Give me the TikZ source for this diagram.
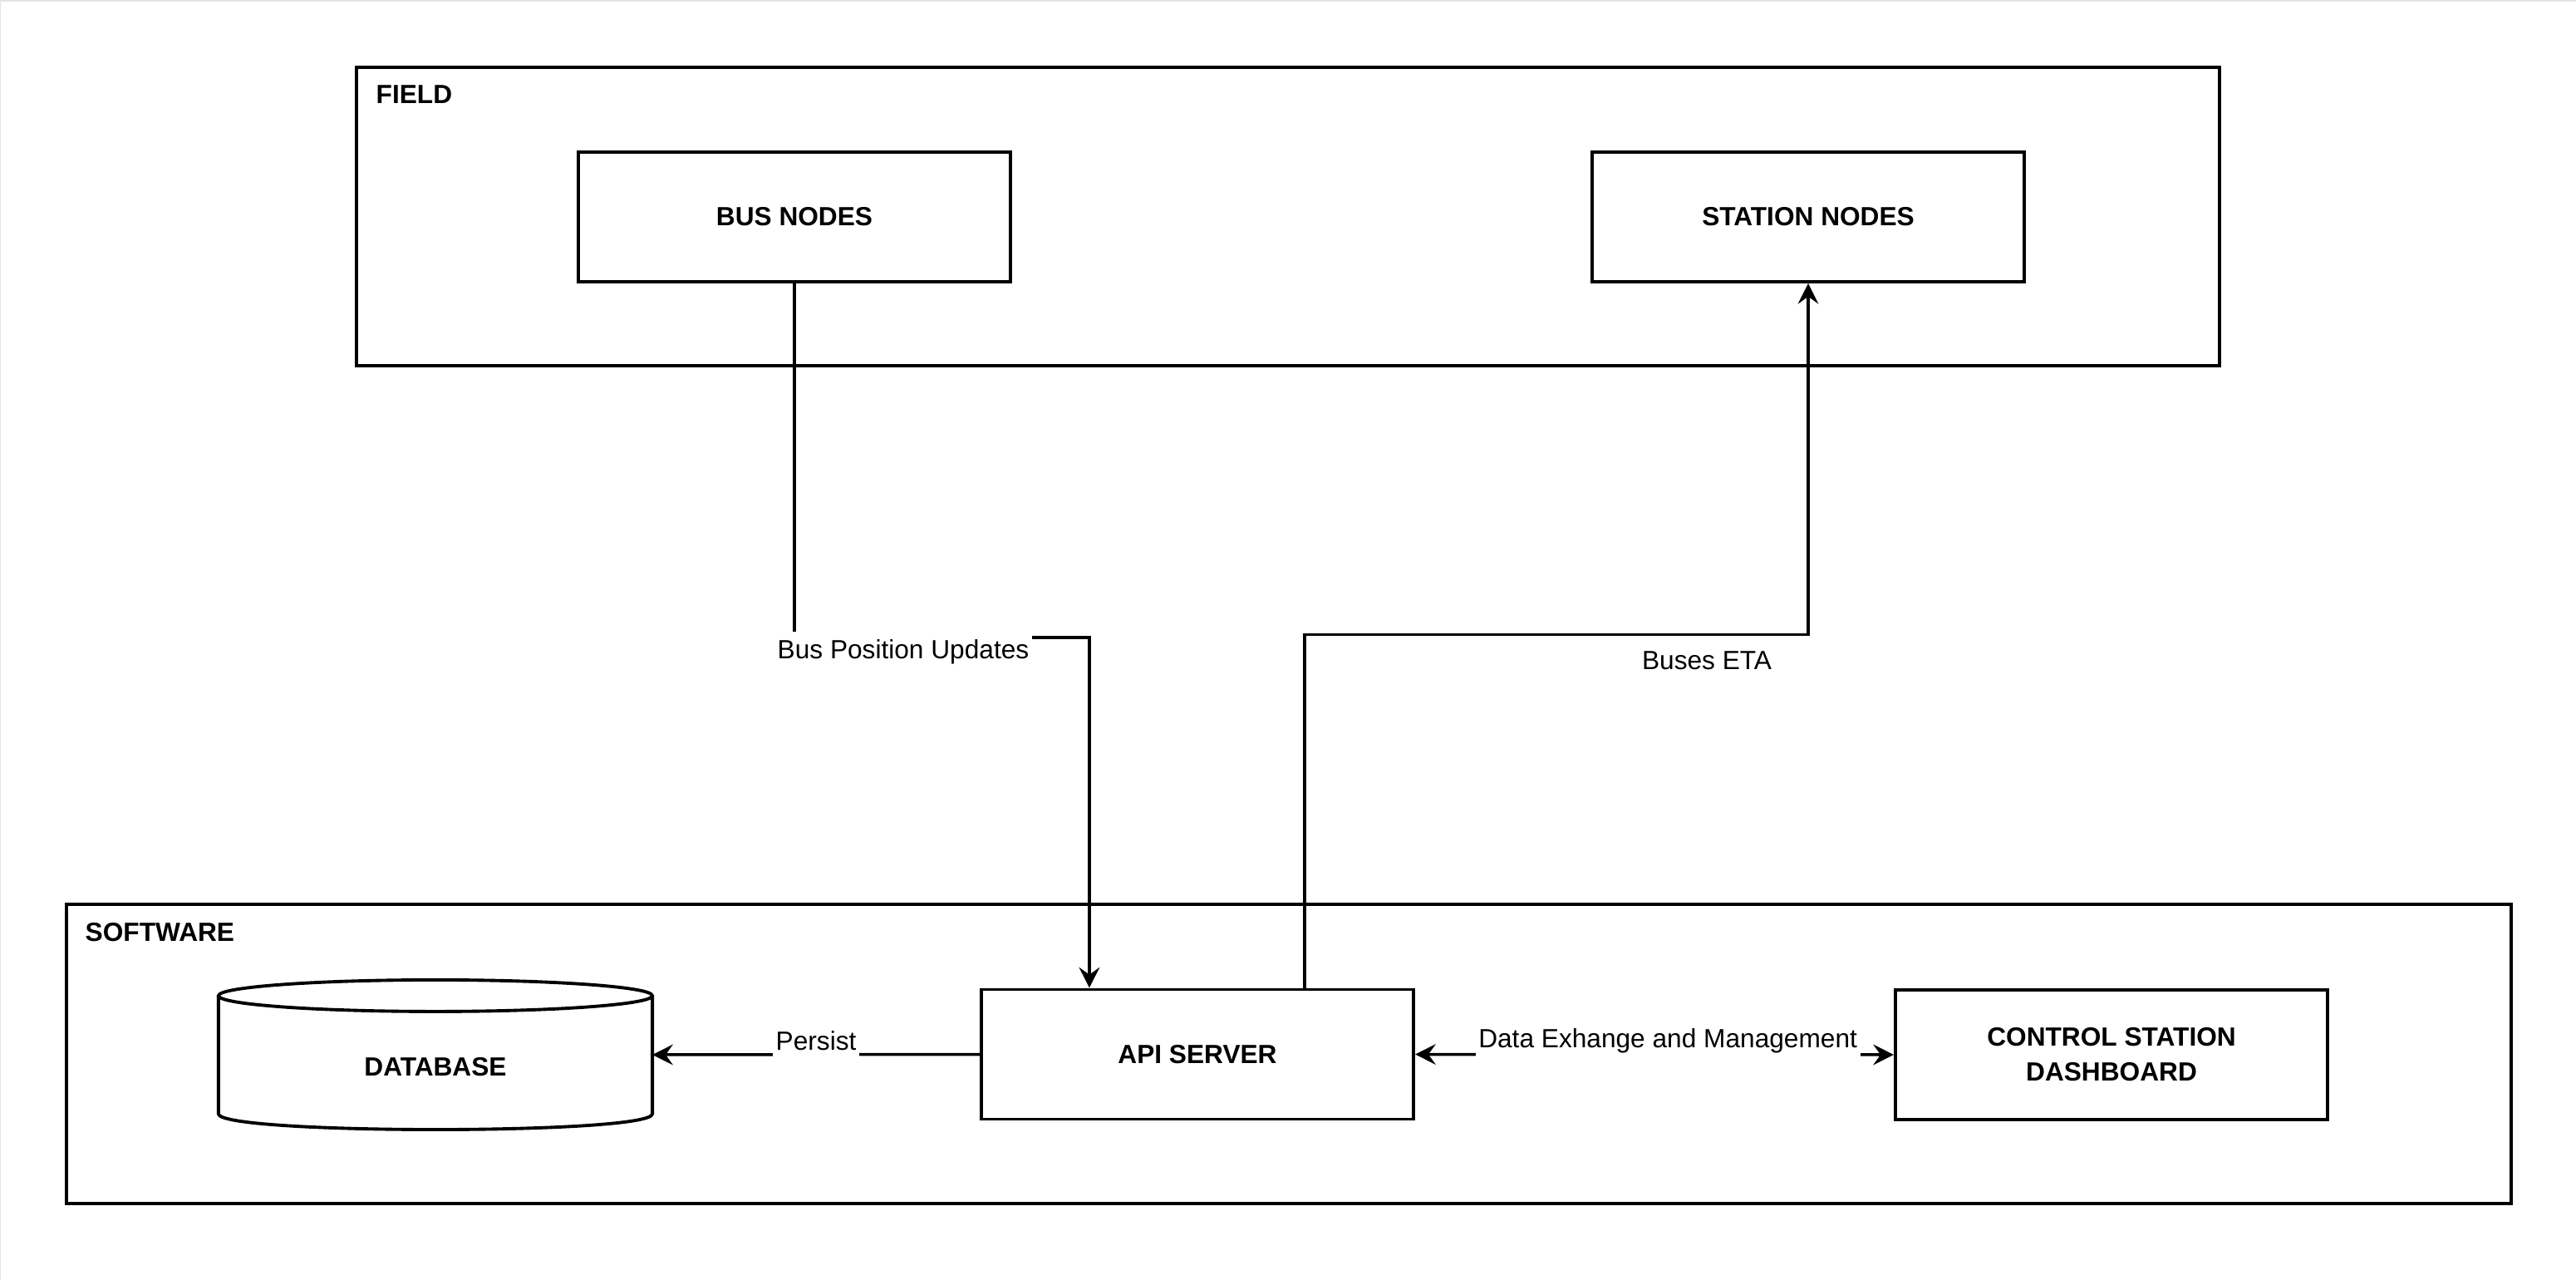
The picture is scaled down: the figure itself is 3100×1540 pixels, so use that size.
\documentclass[tikz,border=0pt]{standalone}
\usepackage{fontspec}
\setmainfont{Liberation Sans}
\usetikzlibrary{arrows.meta}
\begin{document}
\begin{tikzpicture}[x=0.01cm, y=-0.01cm,
  box/.style={draw, line width=1.1pt, minimum width=5.2cm, minimum height=1.56cm,
    inner sep=0pt, align=center, font=\fontsize{9}{11.9}\selectfont\bfseries},
  group/.style={draw, line width=1.1pt, inner sep=0pt},
  grouptitle/.style={anchor=west, inner sep=0pt, font=\fontsize{9}{11}\selectfont\bfseries},
  conn/.style={line width=1pt, -{Stealth[length=7pt, width=7pt, inset=2.5pt]}},
  biconn/.style={line width=1pt, {Stealth[length=7pt, width=7pt, inset=2.5pt]}-{Stealth[length=7pt, width=7pt, inset=2.5pt]}},
  lbl/.style={fill=white, inner xsep=1pt, inner ysep=2.5pt, anchor=base, font=\fontsize{9}{11}\selectfont}]

  % page frame
  \useasboundingbox (0,0) rectangle (3100,1540);
  \draw[black!11, line width=0.02cm] (0,1540) -- (0,1) -- (3100,1);

  % field group
  \node[group, minimum width=22.4cm, minimum height=3.59cm] (field) at (1550,260.5) {};
  \node[grouptitle] (fieldtitle) at (452,114) {FIELD};
  \node[box] (bus) at (956,261) {BUS NODES};
  \node[box] (sta) at (2176,261) {STATION NODES};

  % software group
  \node[group, minimum width=29.4cm, minimum height=3.6cm] (soft) at (1551,1268) {};
  \node[grouptitle] (softtitle) at (102,1122) {SOFTWARE};
  \node[box] (api) at (1441,1268.5) {API SERVER};
  \node[box] (ctl) at (2541,1269) {CONTROL STATION\\DASHBOARD};

  % database cylinder
  \node[minimum width=5.22cm, minimum height=1.8cm, inner sep=0pt, outer sep=0pt] (db) at (524,1269) {};
  \draw[line width=1.1pt] (db.north) ++(0,19) ellipse (261 and 19);
  \draw[line width=1.1pt] ([yshift=-0.19cm]db.north west) -- ([yshift=0.19cm]db.south west)
    .. controls +(0,25.3) and +(0,25.3) .. ([yshift=0.19cm]db.south east)
    -- ([yshift=-0.19cm]db.north east);
  \node[inner sep=0pt, font=\fontsize{9}{11}\selectfont\bfseries] (dblabel) at (524,1284) {DATABASE};

  % connectors
  \draw[conn] (bus.south) -- ++(0,426) -| ([xshift=-1.3cm]api.north);
  \draw[conn] ([xshift=1.29cm]api.north) -- ++(0,-425) -| (sta.south);
  \draw[conn] (api.west) -- (db.east) node[lbl, midway, yshift=0.05cm] {Persist};
  \draw[biconn] (api.east) -- (ctl.west) node[lbl, pos=0.528, yshift=0.08cm] {Data Exhange and Management};

  \node[lbl] (buslbl) at (1087,792) {Bus Position Updates};
  \node[lbl] (etalbl) at (2054,805) {Buses ETA};
\end{tikzpicture}
\end{document}
